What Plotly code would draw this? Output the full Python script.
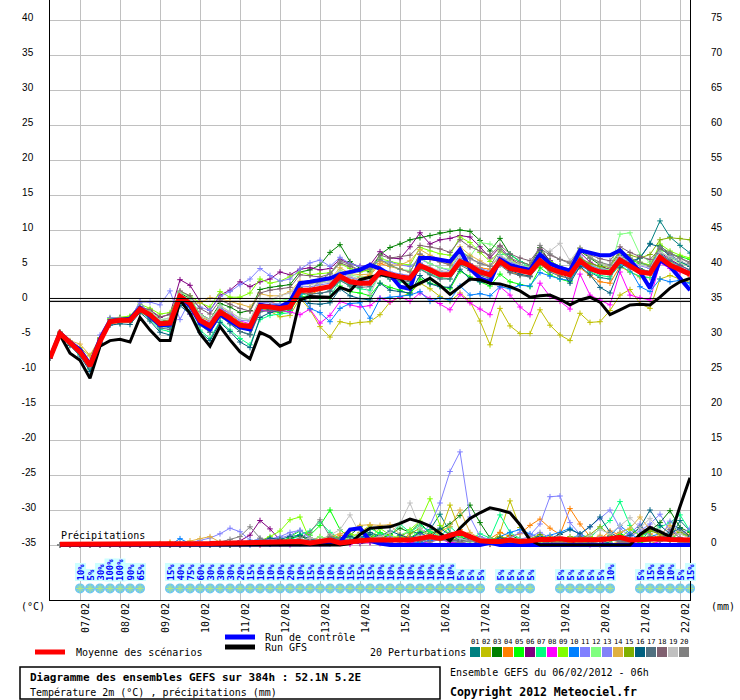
import plotly.graph_objects as go

# time steps (hours since 06/02/2012 06h)
hours = list(range(0, 385, 6))
date_labels = ["07/02", "08/02", "09/02", "10/02", "11/02", "12/02", "13/02", "14/02",
               "15/02", "16/02", "17/02", "18/02", "19/02", "20/02", "21/02", "22/02"]

# 2m temperature (°C)
t_mean = [-8.3, -4.8, -6.1, -7.4, -9.4, -5.9, -3.1, -2.9, -2.9, -1.3, -2.1, -3.4, -3.3,
          0.5, -0.5, -2.9, -3.7, -1.7, -2.6, -3.6, -3.8, -0.9, -1.0, -1.2, -1.0,
          1.4, 1.4, 1.7, 1.9, 3.4, 2.6, 2.4, 2.4, 4.0, 3.6, 3.3, 3.1, 4.9, 4.3, 3.6, 3.6,
          5.5, 4.9, 4.0, 3.6, 5.5, 4.5, 4.2, 3.9, 5.6, 4.5, 4.0, 3.6, 5.6, 4.5, 4.0, 3.9,
          5.7, 4.8, 4.0, 3.8, 6.1, 5.0, 4.3, 3.7]
t_control = [-8.3, -4.7, -6.0, -7.1, -9.2, -5.6, -3.0, -2.8, -2.7, -1.1, -2.3, -3.6, -3.5,
             0.3, -0.8, -3.3, -4.2, -2.0, -3.0, -3.9, -4.2, -0.7, -0.9, -1.0, -0.2,
             2.4, 2.6, 2.9, 3.1, 3.7, 4.0, 4.3, 5.0, 4.5, 3.6, 1.9, 1.6, 6.0, 6.0, 5.8, 5.5,
             7.2, 4.5, 3.1, 2.6, 5.8, 5.0, 4.6, 4.3, 6.5, 5.2, 4.6, 4.2, 7.1, 6.7, 6.4, 6.4,
             7.1, 5.7, 4.0, 1.7, 5.7, 4.8, 3.1, 1.4]
t_gfs = [-8.3, -5.0, -7.6, -8.6, -11.2, -6.6, -5.8, -5.6, -6.0, -2.5, -4.3, -5.8, -5.8,
         0.0, -1.9, -4.8, -6.6, -3.8, -5.7, -7.4, -8.4, -4.6, -5.3, -6.6, -6.0,
         0.0, 0.5, 0.5, 0.4, 1.8, 1.3, 2.9, 3.2, 3.6, 3.4, 3.1, 1.7, 2.4, 3.1, 2.1, 0.8,
         1.9, 3.0, 2.9, 2.4, 2.3, 1.9, 1.3, 0.4, 0.6, 0.7, 0.1, -0.7, 0.0, 0.4, -0.3, -2.1,
         -1.4, -0.7, -0.6, -0.7, 0.4, 1.7, 2.6, 3.1]

t01 = [-8.3, -4.7, -6.3, -7.6, -9.8, -6.0, -3.4, -3.0, -3.1, -1.6, -2.6, -3.8, -3.9,
       0.2, -1.0, -3.5, -4.6, -2.2, -3.4, -4.5, -4.9, -1.5, -1.3, -1.0, -0.6,
       1.8, 1.0, 0.9, 1.3, 3.0, 2.2, 2.0, 2.6, 4.4, 3.2, 3.0, 2.8, 5.2, 4.0, 3.3, 3.5,
       5.9, 5.0, 4.4, 3.8, 6.2, 5.5, 5.0, 4.7, 7.1, 5.6, 4.5, 3.8, 5.8, 4.0, 3.2, 3.0,
       6.4, 5.2, 6.0, 8.1, 11.3, 9.0, 7.8, 6.7]
t02 = [-8.3, -4.9, -6.0, -6.8, -8.0, -5.5, -3.3, -3.2, -3.0, -1.8, -2.4, -3.4, -3.0,
       0.8, -0.2, -2.4, -3.0, -1.0, -2.0, -3.2, -3.5, -1.2, -1.6, -2.4, -2.2,
       0.3, -1.4, -3.8, -5.3, -3.1, -3.4, -3.2, -3.1, -2.1, -0.3, 0.4, 1.0, 2.4, 1.6, 0.5, -0.2,
       1.0, -0.2, -3.0, -6.4, -1.2, -3.7, -4.8, -4.8, -1.4, -3.6, -5.0, -5.8, -1.9, -3.2, -3.1, -1.5,
       0.7, 1.5, -0.5, -1.2, 3.0, 3.5, 3.0, 2.5]
t03 = [-8.3, -4.6, -6.0, -7.2, -9.6, -5.4, -2.8, -2.5, -2.6, -1.0, -1.8, -3.0, -2.9,
       1.0, 0.2, -2.0, -2.8, -0.5, -1.0, -1.8, -1.5, 1.5, 1.8, 2.0, 2.2,
       4.0, 4.3, 5.0, 6.8, 7.9, 5.5, 4.5, 4.0, 6.5, 7.5, 8.0, 8.6, 8.9, 9.2, 9.6, 9.8,
       10.0, 9.8, 8.5, 7.0, 8.8, 6.5, 5.5, 5.0, 7.5, 5.5, 4.8, 4.2, 7.0, 6.0, 5.0, 4.2,
       6.5, 5.5, 4.5, 4.0, 7.8, 6.5, 5.5, 4.8]
t04 = [-8.3, -4.8, -6.2, -7.5, -9.5, -5.9, -3.2, -2.9, -3.0, -1.4, -2.2, -3.6, -3.5,
       0.3, -0.8, -3.2, -4.0, -2.0, -2.8, -3.9, -4.2, -0.5, -0.2, -0.8, -0.6,
       1.2, 0.8, 1.4, 2.0, 3.6, 2.8, 3.2, 3.5, 5.2, 4.8, 4.5, 4.0, 6.5, 5.8, 5.5, 5.0,
       6.8, 5.2, 4.6, 4.4, 5.2, 4.0, 3.6, 3.4, 5.0, 4.2, 3.5, 3.0, 4.6, 3.5, 2.6, 2.4,
       4.8, 4.0, 3.3, 3.2, 5.5, 4.8, 4.1, 3.4]
t05 = [-8.3, -4.7, -6.2, -7.3, -9.3, -5.6, -2.7, -2.6, -2.4, -1.1, -2.0, -3.5, -3.4,
       0.6, -0.5, -3.0, -3.8, -1.2, -2.3, -3.4, -3.7, -1.4, -1.6, -1.8, -1.5,
       0.6, 0.3, 0.4, 0.2, 2.0, 1.2, 1.0, 0.6, 2.4, 1.8, 1.4, 0.8, 3.0, 2.4, 2.0, 1.6,
       4.1, 3.3, 2.6, 2.0, 3.7, 2.6, 2.2, 1.9, 4.6, 3.6, 3.0, 2.6, 5.5, 4.8, 4.2, 4.0,
       6.6, 5.8, 5.2, 5.0, 7.2, 6.6, 6.2, 5.8]
t06 = [-8.3, -4.9, -6.3, -7.6, -9.6, -6.1, -3.0, -2.7, -2.5, -1.0, -1.5, -2.5, -2.0,
       2.9, 2.1, -0.2, -1.5, 0.7, 1.4, 2.6, 1.9, 2.6, 3.0, 4.0, 3.6,
       4.4, 4.6, 4.3, 4.5, 5.8, 5.2, 4.8, 5.0, 6.9, 6.0, 5.9, 7.6, 9.6, 8.0, 8.6, 8.8,
       9.2, 9.0, 7.6, 6.0, 7.6, 6.0, 5.0, 4.5, 7.2, 5.6, 4.6, 4.0, 6.8, 5.4, 4.7, 4.4,
       6.0, 5.0, 4.2, 4.0, 6.8, 5.8, 5.0, 4.2]
t07 = [-8.3, -4.8, -6.4, -7.8, -9.9, -6.2, -3.3, -3.1, -3.2, -1.5, -2.8, -4.2, -4.5,
       -0.4, -1.6, -4.3, -5.5, -3.0, -4.3, -5.5, -6.4, -2.8, -2.2, -2.0, -1.8,
       1.0, 0.5, 0.2, 0.5, 2.8, 2.0, 1.6, 1.4, 3.6, 3.0, 2.6, 2.3, 4.5, 3.7, 3.2, 3.0,
       5.2, 4.4, 3.7, 3.3, 6.5, 6.6, 5.5, 4.6, 5.3, 4.4, 3.9, 3.6, 5.2, 4.0, 3.5, 3.3,
       5.0, 4.0, 3.4, 3.2, 6.5, 5.5, 4.6, 4.0]
t08 = [-8.3, -4.8, -6.0, -7.2, -9.1, -5.6, -2.9, -2.8, -2.8, -1.2, -2.0, -3.3, -3.2,
       0.3, -2.0, -2.0, -3.0, -1.3, -1.8, -3.0, -3.4, -1.4, -1.6, -1.5, -1.7,
       -2.1, -1.3, -3.3, -2.2, -0.2, -0.7, -1.0, -0.8, 0.3, -0.3, 0.5, -0.2, 1.0, 0.2, -0.5, -1.4,
       0.8, -0.4, -1.3, -2.1, 1.9, 0.7, -1.0, -2.1, 2.4, 0.5, -0.2, -1.3, 3.7, 0.7, 0.0, -0.7,
       4.0, 0.7, 0.3, 0.0, 5.3, 4.5, 4.0, 3.6]
t09 = [-8.3, -4.6, -5.9, -7.0, -9.0, -5.4, -2.6, -2.5, -2.3, -0.6, -1.2, -2.0, -1.8,
       1.2, 0.6, -0.4, -1.0, 1.2, 0.4, 0.4, 1.0, 3.0, 2.4, 2.7, 3.3,
       4.0, 3.6, 3.8, 3.9, 5.2, 4.5, 4.0, 4.3, 6.0, 5.5, 5.2, 5.0, 7.5, 7.0, 6.6, 6.4,
       9.0, 8.2, 6.8, 5.5, 7.0, 5.8, 5.0, 4.6, 6.8, 5.5, 4.8, 4.3, 7.3, 6.2, 5.3, 4.8,
       7.2, 6.0, 5.4, 5.0, 8.0, 7.0, 6.4, 6.0]
t10 = [-8.3, -4.8, -6.2, -7.4, -9.5, -6.0, -3.3, -3.1, -3.1, -1.5, -2.4, -3.8, -3.8,
       0.0, -1.0, -3.4, -4.3, -2.3, -3.0, -4.0, -4.3, -1.4, -0.8, -0.6, -1.2,
       0.8, -1.2, -1.8, -3.1, -1.2, -0.5, -0.4, -2.6, 0.2, 0.4, 0.5, 0.7, 1.2, -0.2, 0.3, 0.0,
       2.0, 0.7, 0.9, 0.6, 1.9, 1.6, 2.1, 2.0, 3.9, 3.4, 3.0, 2.8, 4.9, 4.2, 3.8, 3.6,
       5.2, 4.4, 1.9, 1.2, 3.0, 2.6, 2.8, 2.4]
t11 = [-8.3, -4.6, -6.0, -7.2, -9.4, -5.0, -2.5, -2.6, -2.7, -0.3, -0.3, -0.7, 1.3,
       -2.8, 0.0, -1.0, -1.5, 0.5, 1.2, 2.2, 3.0, 4.5, 3.5, 2.7, 3.0,
       4.4, 5.3, 5.7, 4.8, 6.1, 5.2, 4.8, 5.0, 5.6, 5.4, 5.0, 4.8, 5.8, 5.2, 4.6, 4.2,
       6.6, 5.9, 5.3, 4.9, 6.2, 5.4, 5.0, 4.6, 6.5, 5.3, 4.8, 4.4, 6.3, 5.0, 4.5, 4.2,
       6.6, 5.6, 4.9, 4.5, 7.4, 6.4, 5.5, 4.9]
t12 = [-8.3, -4.8, -6.4, -7.7, -9.7, -5.9, -3.0, -2.9, -2.7, -1.1, -1.6, -2.8, -2.6,
       1.2, 0.4, -2.1, -2.8, -0.8, -1.7, -2.6, -2.8, 0.2, 0.1, -0.1, 0.2,
       2.4, 2.3, 2.5, 2.8, 4.3, 3.6, 3.3, 3.2, 6.4, 4.9, 4.4, 4.2, 6.0, 5.2, 4.6, 4.4,
       7.0, 6.2, 8.2, 8.0, 7.3, 5.6, 5.0, 4.7, 6.4, 5.2, 4.5, 4.2, 6.0, 5.0, 4.6, 4.3,
       9.4, 9.6, 6.5, 5.4, 7.0, 6.0, 5.3, 4.8]
t13 = [-8.3, -4.7, -6.1, -7.3, -9.3, -5.7, -3.0, -2.9, -2.8, -0.2, -2.3, -3.5, -3.2,
       0.7, -0.3, -2.6, -3.2, -1.1, -2.0, -2.9, -3.0, -0.3, -0.4, -0.6, -0.2,
       2.0, 1.9, 2.2, 2.4, 3.9, 3.2, 2.8, 2.7, 4.4, 4.0, 3.7, 3.5, 5.3, 4.6, 4.1, 3.8,
       5.9, 5.2, 4.5, 4.1, 5.9, 5.0, 4.6, 4.3, 6.0, 5.0, 4.4, 4.0, 6.1, 5.0, 4.4, 4.1,
       6.2, 5.2, 4.4, 4.0, 6.6, 5.6, 4.8, 4.0]
t14 = [-8.3, -4.6, -5.8, -6.3, -7.9, -5.4, -3.4, -3.3, -3.1, -1.5, -2.1, -3.1, -2.9,
       0.6, -0.5, -0.4, 0.3, 0.2, -0.2, -0.6, -1.0, 0.9, 0.6, 0.6, 1.2,
       2.7, 2.3, 2.6, 2.9, 4.6, 3.8, 3.6, 3.7, 5.5, 5.0, 5.0, 5.6, 7.2, 6.4, 5.8, 5.2,
       7.6, 6.4, 5.6, 4.8, 6.0, 5.0, 4.5, 4.2, 6.2, 5.0, 4.4, 3.9, 5.8, 4.6, 4.0, 3.6,
       5.7, 4.6, 3.9, 3.6, 6.2, 5.3, 4.5, 3.9]
t15 = [-8.3, -4.8, -6.1, -7.3, -9.2, -5.6, -2.8, -2.7, -2.8, -1.2, -1.9, -3.2, -3.0,
       0.6, -0.4, -2.8, -3.5, -1.5, -2.4, -3.4, -3.6, -0.8, -0.9, -1.1, -0.8,
       1.6, 1.5, 1.8, 2.0, 3.6, 2.8, 2.5, 2.5, 4.1, 3.7, 3.4, 3.2, 5.0, 4.4, 3.8, 3.7,
       5.6, 5.0, 4.2, 3.8, 5.6, 4.6, 4.3, 4.1, 5.7, 4.7, 4.2, 3.9, 6.0, 5.2, 4.8, 4.7,
       6.8, 6.4, 6.0, 6.5, 8.6, 8.9, 8.8, 8.6]
t16 = [-8.3, -4.9, -6.5, -8.0, -10.2, -6.3, -3.6, -3.4, -3.5, -1.8, -3.0, -4.6, -5.0,
       -0.8, -2.0, -4.6, -5.8, -3.2, -4.5, -6.0, -6.8, -2.5, -1.8, -1.5, -1.0,
       0.4, -0.5, -0.6, -0.4, 1.6, 0.6, 0.2, 0.0, 2.4, 1.4, 1.2, 1.0, 3.5, 2.3, 1.9, 1.8,
       4.4, 3.0, 2.6, 2.4, 5.6, 4.2, 3.7, 3.4, 7.1, 5.0, 4.4, 2.4, 4.8, 3.6, 1.8, 1.0,
       4.6, 5.5, 6.0, 8.0, 7.6, 6.2, 5.5, 4.8]
t17 = [-8.3, -4.8, -6.3, -7.6, -9.6, -6.0, -3.2, -3.0, -3.0, -1.5, -2.6, -4.0, -4.2,
       0.2, -0.9, -3.6, -4.6, -2.4, -3.3, -4.5, -5.0, -1.7, -1.5, -1.6, -1.3,
       1.0, 0.8, 1.0, 1.2, 2.8, 2.0, 1.8, 1.9, 3.6, 3.0, 2.8, 2.6, 4.4, 3.6, 3.0, 3.0,
       5.0, 4.2, 3.5, 3.1, 5.0, 3.9, 3.5, 3.3, 5.2, 4.0, 3.4, 3.1, 5.4, 4.3, 3.8, 3.7,
       5.9, 5.0, 4.3, 4.1, 6.6, 5.6, 4.9, 4.3]
t18 = [-8.3, -4.7, -6.0, -7.2, -9.2, -5.6, -2.8, -2.6, -2.6, -1.0, -1.4, -2.4, -2.1,
       1.3, 0.6, -1.2, -2.0, 0.0, -0.6, -1.2, -1.6, 1.0, 1.4, 1.6, 1.8,
       3.6, 3.5, 3.3, 3.7, 5.3, 4.8, 4.2, 4.6, 6.4, 6.0, 6.2, 6.4, 7.8, 7.6, 7.3, 6.8,
       8.6, 7.6, 7.0, 6.4, 7.8, 6.6, 6.0, 5.6, 7.4, 6.4, 5.8, 5.4, 7.0, 6.4, 5.9, 5.6,
       7.6, 6.8, 6.2, 5.8, 7.3, 6.6, 6.0, 5.4]
t19 = [-8.3, -4.8, -6.1, -7.3, -9.3, -5.7, -2.9, -2.7, -2.7, -1.1, -1.8, -2.9, -2.6,
       0.9, -0.1, -2.2, -2.8, -0.9, -1.7, -2.6, -2.8, 0.2, 0.0, 0.6, 1.0,
       2.4, 2.2, 2.4, 2.6, 4.0, 3.4, 3.0, 0.8, 3.8, 3.4, 3.2, 3.1, 5.0, 4.6, 4.2, 4.0,
       6.2, 5.8, 5.2, 4.8, 6.4, 5.6, 5.0, 4.6, 6.6, 7.0, 8.1, 5.6, 7.5, 6.2, 5.3, 4.8,
       6.2, 5.5, 5.0, 4.7, 6.8, 6.2, 5.6, 5.0]
t20 = [-8.3, -4.8, -6.2, -7.5, -9.5, -5.8, -3.0, -2.8, -2.9, -1.3, -2.2, -3.5, -3.5,
       0.4, -0.6, -2.9, -3.8, -1.8, -2.7, -3.8, -4.0, -0.9, -1.1, -1.3, -1.1,
       1.3, 1.3, 2.8, 3.8, 5.6, 5.0, 4.2, 4.4, 5.8, 5.0, 4.4, 4.0, 6.6, 5.9, 5.4, 5.0,
       7.0, 6.0, 5.2, 4.8, 7.2, 6.0, 5.4, 5.0, 7.8, 6.6, 5.8, 5.2, 7.4, 6.0, 5.4, 5.0,
       7.0, 6.0, 5.4, 4.8, 7.6, 6.8, 6.0, 5.2]

# 6h precipitation (mm), from +6h to +384h
p_mean = [0.1, 0.1, 0.1, 0.1, 0.05, 0.05, 0.05, 0.05, 0.1, 0.1, 0.1, 0.1, 0.15, 0.2, 0.2, 0.2,
          0.25, 0.3, 0.3, 0.3, 0.35, 0.4, 0.5, 0.6, 0.5, 0.3, 0.5, 0.7, 0.3, 0.5, 0.6, 0.7,
          0.7, 0.7, 0.8, 0.7, 0.95, 1.2, 0.95, 1.4, 1.8, 1.2, 0.6, 0.5, 0.5, 0.7, 0.5, 0.6,
          0.8, 0.8, 0.9, 0.7, 0.7, 0.7, 0.8, 0.9, 1.1, 0.7, 0.8, 0.9, 0.9, 0.8, 0.8, 0.7]
p_control = [0, 0, 0, 0, 0, 0, 0, 0, 0, 0, 0, 0, 0, 0, 0, 0,
             0, 0, 0, 0, 0, 0, 0, 0, 0.1, 0, 0, 0.1, 0.4, 2.2, 2.4, 0.6,
             0.2, 0, 0, 0, 0, 0, 0, 0, 0, 0, 0, 0.3, 0, 0, 0, 0,
             0, 0, 0, 0, 0, 0, 0, 0, 0, 0, 0, 0, 0, 0, 0, 0]
p_gfs = [0, 0, 0, 0, 0, 0, 0, 0, 0, 0, 0, 0, 0, 0, 0, 0,
         0, 0, 0, 0, 0, 0, 0, 0, 0, 0, 0, 0, 0, 0.2, 1.5, 2.4,
         2.5, 2.6, 3.1, 3.7, 3.3, 2.7, 1.7, 0.6, 2.4, 3.8, 4.6, 5.3, 5.0, 4.6, 2.9, 0.7,
         0, 0, 0, 0, 0, 0, 0, 0, 0, 0, 1.5, 2.5, 1.9, 1.2, 5.5, 9.6]

p01 = [0, 0, 0, 0, 0, 0, 0, 0, 0, 0, 0, 0, 0, 0, 0, 0.1,
       0.2, 0.3, 0.1, 0.4, 0.6, 0.3, 0.2, 0.8, 1.4, 0.5, 0.3, 1.2, 0.8, 0.4, 0.9, 1.5,
       1.0, 0.6, 1.2, 2.0, 1.6, 2.2, 4.4, 1.8, 0.9, 0.6, 1.2, 0.5, 0.3, 0.8, 0.4, 0.2,
       0.5, 1.0, 0.6, 0.3, 1.2, 0.8, 0.5, 0.3, 1.8, 0.6, 0.4, 2.2, 1.5, 0.8, 3.5, 2.0]
p02 = [0, 0, 0, 0, 0, 0, 0, 0, 0, 0, 0, 0, 0, 0, 0.1, 0,
       0, 0.1, 0.2, 0.1, 0, 0.3, 0.5, 0.2, 0.6, 0.4, 1.2, 0.8, 0.6, 1.0, 1.8, 2.8,
       1.5, 0.9, 1.2, 0.8, 1.6, 2.0, 1.5, 5.7, 2.0, 0.9, 0.4, 0.2, 1.8, 6.3, 2.5, 0.6,
       0.3, 0.2, 0.1, 0.3, 0.5, 0.2, 0, 0.1, 0.4, 0.8, 0.3, 0.2, 0.6, 1.2, 0.8, 0.5]
p03 = [0, 0, 0, 0, 0, 0, 0, 0, 0, 0, 0, 0, 0, 0, 0, 0,
       0, 0, 0.1, 0.2, 0.4, 0.2, 0.6, 1.0, 1.3, 0.7, 0.4, 0.8, 1.0, 1.4, 2.6, 1.2,
       0.8, 1.5, 2.4, 1.8, 3.2, 1.6, 2.2, 3.0, 4.2, 5.7, 3.2, 1.0, 0.6, 1.4, 0.8, 0.4,
       0.6, 0.3, 0.2, 0.8, 0.4, 0.3, 0.6, 1.2, 0.9, 0.5, 1.4, 2.0, 3.2, 4.9, 2.5, 1.8]
p04 = [0, 0, 0, 0, 0, 0, 0, 0, 0, 0, 0.2, 0.4, 0.1, 0, 0, 0.1,
       0.1, 0, 0.2, 0.3, 0.1, 0.2, 0.4, 0.6, 0.4, 0.2, 0.8, 0.5, 1.4, 0.9, 0.6, 0.4,
       1.0, 0.7, 0.5, 1.2, 0.9, 0.8, 1.6, 0.8, 2.2, 1.0, 0.6, 0.9, 1.8, 1.2, 1.6, 2.8,
       3.7, 2.4, 1.5, 5.2, 3.0, 1.2, 0.8, 2.0, 1.4, 1.0, 2.6, 1.6, 0.9, 1.2, 2.2, 1.4]
p05 = [0, 0, 0, 0, 0, 0, 0, 0, 0, 0, 0, 0.2, 0, 0, 0, 0,
       0, 0.1, 0, 0.2, 0.3, 0.4, 0.2, 1.2, 2.0, 1.4, 2.8, 5.0, 2.2, 1.0, 0.6, 0.8,
       1.8, 1.2, 0.7, 1.0, 2.0, 1.4, 0.8, 0.5, 1.2, 0.6, 0.3, 0.2, 0.6, 0.4, 0.3, 0.5,
       0.2, 0.4, 0.8, 0.5, 0.3, 0.2, 0.9, 0.6, 1.5, 0.8, 0.4, 0.6, 1.2, 0.7, 1.8, 1.0]
p06 = [0, 0, 0, 0, 0, 0, 0, 0, 0, 0, 0, 0, 0, 0, 0, 0,
       0, 0.2, 0.6, 1.4, 3.5, 2.3, 0.7, 0.3, 0.2, 0.5, 0.4, 0.2, 0.6, 0.3, 0.2, 0.4,
       0.5, 0.3, 0.8, 0.4, 0.2, 0.6, 0.9, 0.4, 0.3, 0.6, 0.2, 0.1, 0.3, 0.2, 0.4, 0.3,
       0.2, 0.5, 0.3, 0.2, 0.6, 0.4, 0.2, 0.8, 0.5, 0.3, 1.0, 2.6, 1.5, 0.6, 0.8, 0.4]
p07 = [0, 0, 0, 0, 0, 0, 0, 0, 0, 0, 0, 0, 0, 0, 0.1, 0,
       0.1, 0, 0.3, 0.5, 0.8, 0.4, 1.0, 0.6, 1.5, 2.0, 3.3, 1.8, 0.9, 1.2, 0.8, 2.4,
       1.6, 1.2, 3.0, 1.8, 2.8, 1.9, 1.2, 2.6, 1.4, 0.8, 1.6, 1.0, 4.3, 1.8, 0.9, 0.5,
       0.8, 1.2, 0.6, 0.9, 1.5, 1.0, 2.4, 3.5, 6.2, 2.8, 1.2, 1.9, 2.6, 3.2, 4.3, 2.0]
p08 = [0, 0, 0, 0, 0, 0, 0, 0, 0, 0, 0, 0, 0, 0, 0, 0,
       0, 0, 0, 0.1, 0, 0.2, 0.1, 0, 0.3, 0.2, 0.1, 0.4, 0.2, 0.1, 0.5, 0.3,
       0.2, 0.4, 0.6, 0.3, 0.2, 0.5, 0.8, 0.4, 0.3, 0.2, 0.1, 0.2, 0.4, 0.3, 0.2, 0.1,
       0.2, 0.1, 0.3, 0.2, 0.1, 0, 0.2, 0.1, 0.3, 0.4, 0.2, 0.1, 0.5, 1.2, 0.6, 0.3]
p09 = [0, 0, 0, 0, 0, 0, 0, 0, 0, 0, 0, 0, 0, 0, 0, 0,
       0, 0.1, 0.2, 0.3, 0.6, 1.2, 2.0, 3.6, 4.0, 0.7, 0.5, 1.0, 0.8, 1.6, 1.2, 0.9,
       2.4, 1.4, 1.0, 2.2, 3.4, 6.6, 2.8, 1.5, 0.8, 1.2, 0.5, 0.3, 0.9, 0.6, 0.4, 0.8,
       1.2, 0.6, 0.4, 0.8, 0.5, 1.2, 0.8, 0.6, 1.0, 2.2, 1.4, 0.8, 1.2, 0.9, 2.0, 1.2]
p10 = [0, 0, 0, 0, 0, 0, 0, 0, 0, 0, 0, 0, 0.9, 0.2, 0, 0,
       0, 0, 0.1, 0, 0.2, 0.1, 0.3, 0.2, 0.4, 0.3, 0.5, 0.4, 0.6, 0.8, 1.2, 0.9,
       0.6, 0.4, 0.8, 0.5, 0.3, 0.6, 1.0, 0.7, 0.5, 0.9, 0.6, 0.4, 1.2, 1.8, 2.2, 1.6,
       1.0, 1.4, 1.8, 2.4, 1.5, 0.9, 0.6, 1.3, 2.8, 1.6, 0.8, 1.2, 1.6, 0.9, 1.1, 0.7]
p11 = [0, 0, 0, 0, 0, 0, 0, 0, 0, 0, 0, 0, 0.1, 0.3, 0.6, 1.0,
       1.6, 2.4, 1.9, 0.7, 0.5, 0.8, 1.2, 1.8, 2.1, 1.0, 0.6, 0.8, 0.4, 0.9, 0.6, 0.5,
       0.8, 1.2, 0.7, 1.0, 1.5, 2.8, 6.0, 10.5, 13.3, 4.0, 1.2, 0.8, 0.6, 1.0, 1.8, 1.4,
       3.0, 6.9, 7.0, 3.2, 1.5, 2.6, 3.8, 5.0, 2.4, 1.2, 2.0, 3.0, 4.4, 2.0, 1.5, 2.4]
p12 = [0, 0, 0, 0, 0, 0, 0, 0, 0, 0, 0, 0, 0, 0, 0, 0,
       0.1, 0, 0.2, 0.4, 0.3, 0.6, 0.9, 0.5, 0.8, 0.6, 1.2, 0.8, 0.5, 1.0, 1.6, 0.8,
       0.6, 0.9, 1.4, 2.0, 1.2, 0.8, 1.6, 1.0, 0.6, 0.4, 0.8, 0.5, 0.3, 0.6, 0.9, 0.5,
       0.4, 0.8, 1.2, 0.6, 0.3, 0.5, 0.8, 1.0, 0.6, 0.4, 0.9, 1.4, 0.8, 0.6, 1.0, 0.7]
p13 = [0, 0, 0, 0, 0, 0, 0, 0, 0, 0, 0, 0, 0, 0, 0, 0,
       0, 0.2, 0.3, 0.5, 0.9, 0.6, 1.0, 1.4, 2.1, 1.0, 0.7, 0.5, 0.9, 0.6, 0.4, 0.8,
       1.0, 0.6, 0.4, 0.8, 0.5, 0.9, 1.2, 0.8, 1.6, 0.9, 0.5, 0.3, 0.6, 0.4, 0.8, 1.2,
       1.8, 1.0, 0.6, 0.9, 1.4, 0.8, 1.2, 0.7, 1.0, 1.6, 3.0, 1.2, 0.9, 3.4, 2.0, 1.2]
p14 = [0, 0, 0, 0, 0, 0, 0, 0, 0, 0, 0, 0, 0.2, 0.6, 0.9, 1.2,
       0.4, 0.2, 0.1, 0.3, 0.2, 0.4, 0.3, 0.6, 0.5, 0.9, 0.6, 1.2, 1.6, 2.0, 2.8, 2.9,
       2.8, 2.9, 1.5, 1.0, 0.8, 1.4, 2.0, 2.6, 5.0, 1.8, 0.9, 0.6, 1.2, 0.8, 0.5, 0.9,
       0.6, 1.2, 0.8, 0.5, 1.0, 0.6, 1.4, 0.9, 1.8, 2.4, 4.0, 2.2, 1.4, 2.8, 1.6, 1.0]
p15 = [0, 0, 0, 0, 0, 0, 0, 0, 0, 0, 0, 0, 0, 0, 0, 0,
       0, 0, 0.1, 0.2, 0.4, 0.3, 0.8, 0.5, 0.6, 1.0, 0.7, 1.4, 0.9, 0.6, 1.0, 0.8,
       1.2, 0.8, 0.5, 1.6, 2.4, 1.2, 0.7, 1.0, 0.6, 0.9, 0.4, 0.7, 1.2, 0.8, 0.5, 0.9,
       1.5, 0.8, 0.6, 1.2, 0.9, 1.5, 2.6, 1.4, 0.9, 0.7, 1.3, 2.0, 1.6, 1.0, 1.8, 1.2]
p16 = [0, 0, 0, 0, 0, 0, 0, 0, 0, 0, 0, 0, 0, 0, 0, 0,
       0, 0.1, 0.2, 0.4, 0.6, 1.0, 0.8, 1.2, 1.4, 0.9, 0.6, 1.0, 0.8, 1.2, 0.9, 1.8,
       1.2, 2.0, 1.4, 0.9, 1.8, 1.0, 2.4, 1.4, 0.8, 1.2, 0.9, 0.6, 1.0, 0.7, 0.5, 0.8,
       1.2, 0.9, 1.5, 2.2, 1.6, 2.6, 4.0, 1.8, 1.0, 1.4, 2.5, 5.0, 2.8, 1.6, 2.4, 1.2]
p17 = [0, 0, 0, 0, 0, 0, 0, 0, 0, 0, 0, 0, 0, 0, 0, 0,
       0, 0, 0.1, 0.2, 0.3, 0.2, 0.5, 0.4, 0.6, 0.8, 0.5, 0.9, 0.6, 0.4, 0.7, 0.5,
       0.8, 0.6, 1.0, 0.7, 0.5, 0.9, 1.2, 0.8, 0.6, 1.0, 0.7, 0.4, 0.6, 0.9, 0.5, 0.3,
       0.6, 0.4, 0.8, 0.5, 0.7, 0.4, 0.6, 0.9, 0.5, 0.8, 1.1, 0.7, 0.9, 1.2, 0.8, 0.6]
p18 = [0, 0, 0, 0, 0, 0, 0, 0, 0, 0, 0, 0, 0, 0, 0, 0,
       0, 0.1, 0, 0.2, 0.4, 0.3, 0.6, 0.4, 0.5, 0.7, 0.4, 0.8, 0.6, 0.5, 0.9, 0.6,
       0.4, 0.7, 0.5, 0.9, 0.6, 0.8, 1.0, 0.7, 0.5, 0.8, 0.4, 0.3, 0.5, 0.7, 0.4, 0.6,
       0.8, 0.5, 0.3, 0.6, 0.9, 0.5, 0.7, 1.0, 0.6, 0.4, 0.8, 1.2, 0.7, 2.2, 1.0, 0.6]
p19 = [0, 0, 0, 0, 0, 0, 0, 0, 0, 0, 0, 0, 0, 0, 0, 0,
       0, 0.1, 0.3, 0.2, 0.5, 0.4, 0.3, 0.8, 0.6, 1.0, 0.7, 1.4, 2.2, 4.3, 1.6, 0.9,
       1.2, 1.8, 3.0, 6.0, 2.4, 1.2, 0.8, 1.5, 0.9, 0.6, 1.0, 0.7, 0.5, 0.9, 0.6, 0.8,
       1.0, 0.7, 1.2, 0.9, 0.6, 1.4, 2.2, 1.6, 2.8, 3.9, 2.4, 3.8, 2.0, 1.2, 1.6, 1.0]
p20 = [0, 0, 0, 0, 0, 0, 0, 0, 0, 0, 0, 0, 0, 0, 0, 0.2,
       0.4, 0.8, 1.2, 2.6, 1.0, 0.5, 0.3, 0.6, 1.0, 1.8, 3.6, 1.2, 0.8, 0.6, 1.0, 0.7,
       0.5, 0.9, 0.6, 1.0, 0.7, 0.4, 0.8, 0.5, 0.3, 0.6, 0.4, 0.2, 0.5, 0.3, 0.6, 0.4,
       0.2, 0.5, 0.3, 0.6, 0.4, 0.2, 0.5, 0.8, 0.4, 0.3, 0.6, 0.9, 0.5, 0.7, 0.4, 0.3]

member_names = ["01", "02", "03", "04", "05", "06", "07", "08", "09", "10",
                "11", "12", "13", "14", "15", "16", "17", "18", "19", "20"]
member_colors = ["#008080", "#c0c000", "#008000", "#ff8000", "#00ff00", "#800080", "#00ff80",
                 "#ff00ff", "#80ff00", "#0080ff", "#8080ff", "#80ff80", "#8282f8", "#e0b040",
                 "#80b000", "#006080", "#507080", "#806070", "#c0c0c0", "#808080"]

# snow probability per time step (None = no label)
snow_prob = [None, None, None, 10, 5, 30, 100, 100, 90, 65, None, None,
             15, 40, 75, 60, 30, 30, 30, 20, 15, 10, 10, 10, 20, 10, 15, 10, 10, 10, 15, 15,
             15, 10, 10, 10, 10, 10, 10, 10, 10, 5, 5, 5, None, 5, 5, 5, 5, None, None,
             5, 5, 5, 5, 5, 10, None, None, 5, 15, 10, 10, 5, 15]

t_members = [t01, t02, t03, t04, t05, t06, t07, t08, t09, t10,
             t11, t12, t13, t14, t15, t16, t17, t18, t19, t20]
p_members = [p01, p02, p03, p04, p05, p06, p07, p08, p09, p10,
             p11, p12, p13, p14, p15, p16, p17, p18, p19, p20]

MONO = "DejaVu Sans Mono"
SANS = "Liberation Sans"


def px(x):
    return (x - 50) / 640


def py(y):
    return (600 - y) / 600


fig = go.Figure()

for name, col, t, p in zip(member_names, member_colors, t_members, p_members):
    mk = dict(symbol="cross-thin", size=4, line=dict(width=1, color=col), color=col)
    fig.add_trace(go.Scatter(x=hours, y=t, mode="lines+markers", line=dict(color=col, width=1),
                             marker=mk, name=name, showlegend=False))
    fig.add_trace(go.Scatter(x=hours[1:], y=p, yaxis="y2", mode="lines+markers",
                             line=dict(color=col, width=1), marker=mk, showlegend=False))

for t, p, col, w in [(t_control, p_control, "#0000ff", 4), (t_gfs, p_gfs, "#000000", 3),
                     (t_mean, p_mean, "#ff0000", 5)]:
    fig.add_trace(go.Scatter(x=hours, y=t, mode="lines", line=dict(color=col, width=w),
                             showlegend=False))
    fig.add_trace(go.Scatter(x=hours[1:], y=p, yaxis="y2", mode="lines",
                             line=dict(color=col, width=w), showlegend=False))

# snow probability row
snow_x = [h for h, v in zip(hours, snow_prob) if v is not None]
snow_y = [-41.2] * len(snow_x)
fig.add_trace(go.Scatter(x=snow_x, y=snow_y, xaxis="x2", mode="markers",
                         marker=dict(symbol="circle", size=10, color="#6cc4f6"),
                         showlegend=False, cliponaxis=False))
fig.add_trace(go.Scatter(x=snow_x, y=snow_y, xaxis="x2", mode="markers",
                         marker=dict(symbol="asterisk-open", size=7,
                                     line=dict(width=1, color="#e8f6ff")),
                         showlegend=False, cliponaxis=False))

ann = []
for h, v in zip(hours, snow_prob):
    if v is None:
        continue
    ann.append(dict(x=h, y=py(582), xref="x", yref="paper", text=f"{v}%", textangle=-90,
                    showarrow=False, xanchor="center", yanchor="bottom", bgcolor="#ccffff",
                    borderpad=0, font=dict(family=MONO, size=9, color="#0000ff", weight="bold")))

# zero line (double)
shapes = [dict(type="line", xref="x", yref="y", x0=0, x1=384, y0=v, y1=v,
               line=dict(color="black", width=1)) for v in (0.22, -0.22)]

# legend
shapes += [
    dict(type="line", xref="paper", yref="paper", x0=px(35), x1=px(65), y0=py(652), y1=py(652),
         line=dict(color="#ff0000", width=5)),
    dict(type="line", xref="paper", yref="paper", x0=px(225), x1=px(255), y0=py(637), y1=py(637),
         line=dict(color="#0000ff", width=5)),
    dict(type="line", xref="paper", yref="paper", x0=px(225), x1=px(255), y0=py(647), y1=py(647),
         line=dict(color="#000000", width=5)),
    dict(type="rect", xref="paper", yref="paper", x0=px(20), x1=px(440), y0=py(667), y1=py(699),
         line=dict(color="black", width=1.5)),
]
for k, (name, col) in enumerate(zip(member_names, member_colors)):
    shapes.append(dict(type="rect", xref="paper", yref="paper", x0=px(470 + 11 * k),
                       x1=px(480 + 11 * k), y0=py(657), y1=py(647), fillcolor=col, line_width=0))
    ann.append(dict(x=px(475 + 11 * k), y=py(642), xref="paper", yref="paper", text=name,
                    showarrow=False, xanchor="center", yanchor="middle",
                    font=dict(family=MONO, size=7, color="black")))


def label(x, y, text, size=10, bold=False, anchor="left"):
    ann.append(dict(x=px(x), y=py(y), xref="paper", yref="paper", text=text, showarrow=False,
                    xanchor=anchor, yanchor="middle",
                    font=dict(family=MONO, size=size, color="black",
                              weight="bold" if bold else "normal")))


label(59, 535, "Précipitations")
label(74, 652, "Moyenne des scénarios")
label(263, 637, "Run de contrôle")
label(263, 647, "Run GFS")
label(368, 652, "20 Perturbations")
label(28, 677, "Diagramme des ensembles GEFS sur 384h : 52.1N 5.2E", size=11, bold=True)
label(28, 692, "Température 2m (°C) , précipitations (mm)")
label(448, 672, "Ensemble GEFS du 06/02/2012 - 06h")
label(448, 692, "Copyright 2012 Meteociel.fr", size=11.5, bold=True)
label(19, 606, "(°C)")
label(709, 606, "(mm)")

left_vals = list(range(-35, 45, 5))
left_text = []
for v in left_vals:
    s = str(v)
    left_text.append(s + "\u00a0" * {1: 3, 2: 1 if v > 0 else 2, 3: 0}[len(s)])
right_vals = list(range(0, 80, 5))

grid_hours = [18 + 24 * k for k in range(16)]

fig.update_layout(
    width=740, height=700, margin=dict(l=50, r=50, t=0, b=100),
    paper_bgcolor="white", plot_bgcolor="white", showlegend=False,
    font=dict(family=SANS, size=10, color="black"),
    xaxis=dict(range=[0, 384], tickvals=grid_hours, showticklabels=False, showgrid=True,
               gridcolor="#c0c0c0", gridwidth=1, zeroline=False, showline=True,
               linecolor="black", linewidth=1, ticks=""),
    xaxis2=dict(range=[0, 384], overlaying="x", anchor="y", side="bottom",
                tickvals=[h + 3.6 for h in grid_hours], ticktext=date_labels, tickangle=-90,
                showgrid=False, zeroline=False, showline=False, ticks="",
                tickfont=dict(family=MONO, size=10)),
    yaxis=dict(range=[-300 / 7, 300 / 7], tickvals=left_vals, ticktext=left_text,
               showgrid=True, gridcolor="#c0c0c0", gridwidth=1, zeroline=False,
               showline=True, linecolor="black", linewidth=1, ticks="",
               ticklabelstandoff=11, ticklabelshift=-3, tickfont=dict(family=SANS, size=10)),
    yaxis2=dict(range=[-300 / 7 + 35, 300 / 7 + 35], overlaying="y", side="right",
                tickvals=right_vals, showgrid=False, zeroline=False, showline=True,
                linecolor="black", linewidth=1, ticks="", ticklabelstandoff=18,
                ticklabelshift=-3, tickfont=dict(family=SANS, size=10)),
    shapes=shapes, annotations=ann,
)

fig.write_html("out.html", config={"displayModeBar": False},
               post_script="document.body.style.margin='0';")
